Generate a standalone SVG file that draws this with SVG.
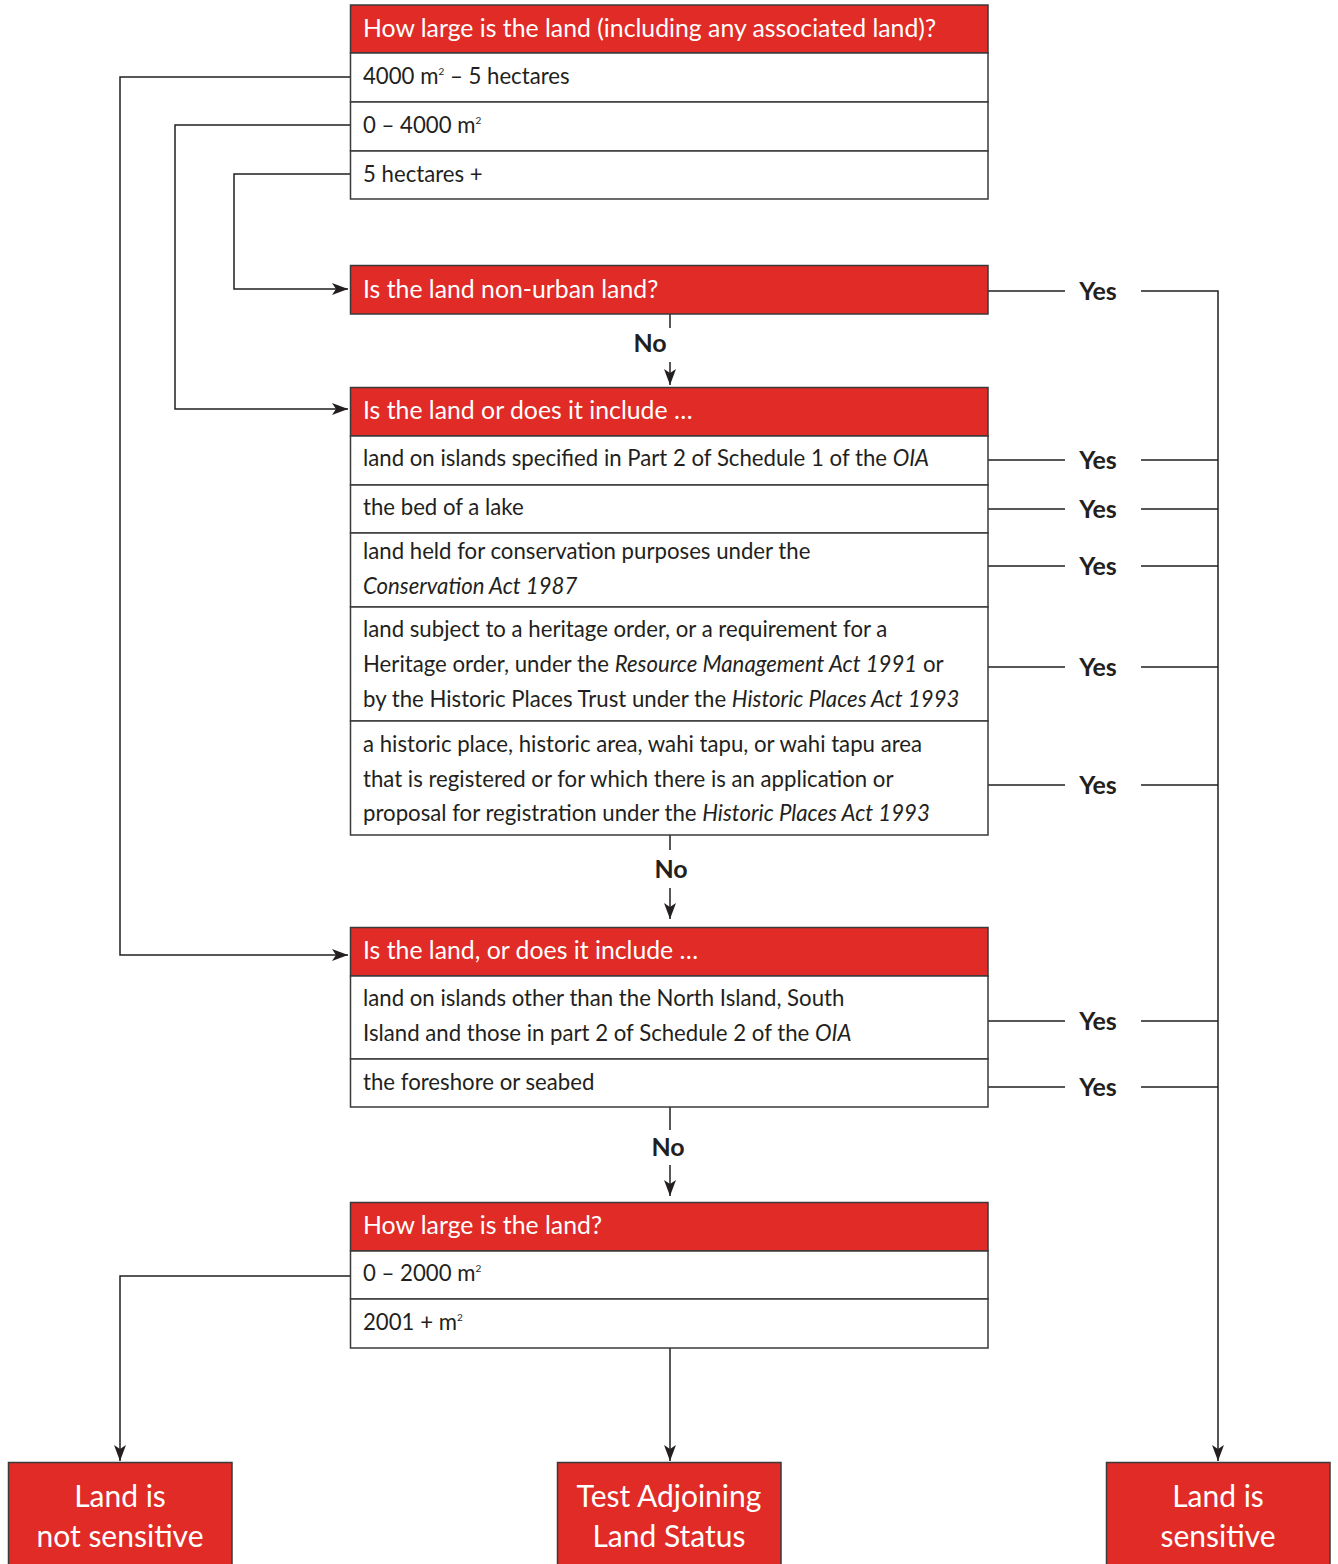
<svg xmlns="http://www.w3.org/2000/svg" width="1338" height="1564" viewBox="0 0 1338 1564">
<defs>
<marker id="ah" viewBox="0 0 16 12" refX="16" refY="6" markerWidth="16" markerHeight="12" markerUnits="userSpaceOnUse" orient="auto">
<path d="M0,0 L16,6 L0,12 L4,6 Z" fill="#231f20"/>
</marker>
<style>
.hd{fill:#e12b26;stroke:#3a3a3a;stroke-width:1.5}
.row{fill:#fff;stroke:#3a3a3a;stroke-width:1.5}
.ht{font-family:Lato,"Liberation Sans",sans-serif;font-size:24.8px;fill:#fff}
.rt{font-family:Lato,"Liberation Sans",sans-serif;font-size:22.2px;fill:#231f20}
.lb{font-family:Lato,"Liberation Sans",sans-serif;font-size:25px;font-weight:bold;fill:#231f20}
.bt{font-family:Lato,"Liberation Sans",sans-serif;font-size:30px;fill:#fff;text-anchor:middle}
.c{fill:none;stroke:#231f20;stroke-width:1.5}
.sup{font-size:10px}
</style>
</defs>

<g id="connectors">
<path class="c" d="M350,77 H120 V955 H348" marker-end="url(#ah)"/>
<path class="c" d="M350,125 H175 V409 H348" marker-end="url(#ah)"/>
<path class="c" d="M350,174 H234 V289 H348" marker-end="url(#ah)"/>
<path class="c" d="M670,314 V328"/>
<path class="c" d="M670,362 V385" marker-end="url(#ah)"/>
<path class="c" d="M670,835 V850"/>
<path class="c" d="M670,888 V919" marker-end="url(#ah)"/>
<path class="c" d="M670,1107 V1130"/>
<path class="c" d="M670,1165 V1196" marker-end="url(#ah)"/>
<path class="c" d="M988,291 H1065 M1141,291 H1218 V1461" marker-end="url(#ah)"/>
<path class="c" d="M988,460 H1065 M1141,460 H1218"/>
<path class="c" d="M988,509 H1065 M1141,509 H1218"/>
<path class="c" d="M988,566 H1065 M1141,566 H1218"/>
<path class="c" d="M988,667 H1065 M1141,667 H1218"/>
<path class="c" d="M988,785 H1065 M1141,785 H1218"/>
<path class="c" d="M988,1021 H1065 M1141,1021 H1218"/>
<path class="c" d="M988,1087 H1065 M1141,1087 H1218"/>
<path class="c" d="M350,1276 H120 V1461" marker-end="url(#ah)"/>
<path class="c" d="M670,1348 V1461" marker-end="url(#ah)"/>
<text class="lb" x="650" y="352" text-anchor="middle">No</text>
<text class="lb" x="671" y="878" text-anchor="middle">No</text>
<text class="lb" x="668" y="1156" text-anchor="middle">No</text>
<text class="lb" x="1098" y="300" text-anchor="middle">Yes</text>
<text class="lb" x="1098" y="469" text-anchor="middle">Yes</text>
<text class="lb" x="1098" y="518" text-anchor="middle">Yes</text>
<text class="lb" x="1098" y="575" text-anchor="middle">Yes</text>
<text class="lb" x="1098" y="676" text-anchor="middle">Yes</text>
<text class="lb" x="1098" y="794" text-anchor="middle">Yes</text>
<text class="lb" x="1098" y="1030" text-anchor="middle">Yes</text>
<text class="lb" x="1098" y="1096" text-anchor="middle">Yes</text>
</g>

<g id="q1">
<rect class="hd" x="350.5" y="5" width="637.5" height="48"/>
<rect class="row" x="350.5" y="53" width="637.5" height="49"/>
<rect class="row" x="350.5" y="102" width="637.5" height="49"/>
<rect class="row" x="350.5" y="151" width="637.5" height="48"/>
<text class="ht" x="363" y="37">How large is the land (including any associated land)?</text>
<text class="rt" x="363" y="84">4000 m<tspan class="sup" dy="-9">2</tspan><tspan dy="9"> – 5 hectares</tspan></text>
<text class="rt" x="363" y="133">0 – 4000 m<tspan class="sup" dy="-9">2</tspan></text>
<text class="rt" x="363" y="182">5 hectares +</text>
</g>

<g id="q2">
<rect class="hd" x="350.5" y="265.5" width="637.5" height="48.5"/>
<text class="ht" x="363" y="298">Is the land non-urban land?</text>
</g>

<g id="q3">
<rect class="hd" x="350.5" y="387.5" width="637.5" height="48.5"/>
<rect class="row" x="350.5" y="436" width="637.5" height="49"/>
<rect class="row" x="350.5" y="485" width="637.5" height="48"/>
<rect class="row" x="350.5" y="533" width="637.5" height="74"/>
<rect class="row" x="350.5" y="607" width="637.5" height="114"/>
<rect class="row" x="350.5" y="721" width="637.5" height="114"/>
<text class="ht" x="363" y="419">Is the land or does it include …</text>
<text class="rt" x="363" y="466">land on islands specified in Part 2 of Schedule 1 of the <tspan font-style="italic">OIA</tspan></text>
<text class="rt" x="363" y="515">the bed of a lake</text>
<text class="rt" x="363" y="559">land held for conservation purposes under the</text>
<text class="rt" x="363" y="594" font-style="italic">Conservation Act 1987</text>
<text class="rt" x="363" y="637">land subject to a heritage order, or a requirement for a</text>
<text class="rt" x="363" y="672">Heritage order, under the <tspan font-style="italic">Resource Management Act 1991</tspan> or</text>
<text class="rt" x="363" y="707">by the Historic Places Trust under the  <tspan font-style="italic">Historic Places Act 1993</tspan></text>
<text class="rt" x="363" y="752">a historic place, historic area, wahi tapu, or wahi tapu area</text>
<text class="rt" x="363" y="787">that is registered or for which there is an application or</text>
<text class="rt" x="363" y="821">proposal for registration under the <tspan font-style="italic">Historic Places Act 1993</tspan></text>
</g>

<g id="q4">
<rect class="hd" x="350.5" y="927.5" width="637.5" height="48.5"/>
<rect class="row" x="350.5" y="976" width="637.5" height="83"/>
<rect class="row" x="350.5" y="1059" width="637.5" height="48"/>
<text class="ht" x="363" y="959">Is the land, or does it include …</text>
<text class="rt" x="363" y="1006">land on islands other than the North Island, South</text>
<text class="rt" x="363" y="1041">Island and those in part 2 of Schedule 2 of the <tspan font-style="italic">OIA</tspan></text>
<text class="rt" x="363" y="1090">the foreshore or seabed</text>
</g>

<g id="q5">
<rect class="hd" x="350.5" y="1202.5" width="637.5" height="48.5"/>
<rect class="row" x="350.5" y="1251" width="637.5" height="48"/>
<rect class="row" x="350.5" y="1299" width="637.5" height="49"/>
<text class="ht" x="363" y="1234">How large is the land?</text>
<text class="rt" x="363" y="1281">0 – 2000 m<tspan class="sup" dy="-9">2</tspan></text>
<text class="rt" x="363" y="1330">2001 + m<tspan class="sup" dy="-9">2</tspan></text>
</g>

<g id="notSensitive">
<rect class="hd" x="8.5" y="1462.5" width="223.5" height="103"/>
<text class="bt" x="120" y="1507">Land is</text>
<text class="bt" x="120" y="1547">not sensitive</text>
</g>
<g id="testAdjoining">
<rect class="hd" x="557.5" y="1462.5" width="223.5" height="103"/>
<text class="bt" x="669" y="1507">Test Adjoining</text>
<text class="bt" x="669" y="1547">Land Status</text>
</g>
<g id="sensitive">
<rect class="hd" x="1106.5" y="1462.5" width="223.5" height="103"/>
<text class="bt" x="1218" y="1507">Land is</text>
<text class="bt" x="1218" y="1547">sensitive</text>
</g>
</svg>
